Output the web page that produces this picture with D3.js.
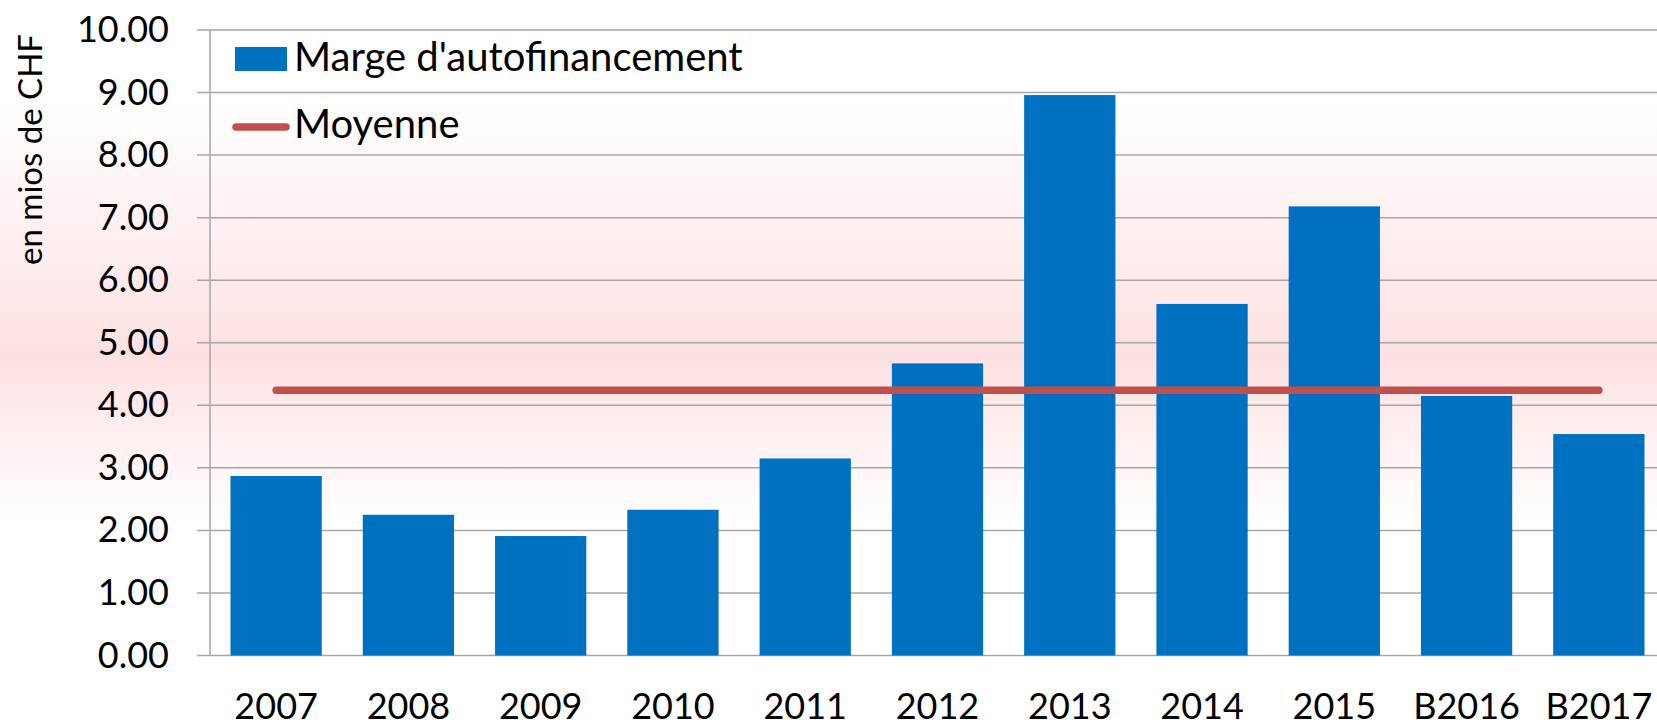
<!DOCTYPE html>
<html>
<head>
<meta charset="utf-8">
<script src="https://cdn.jsdelivr.net/npm/d3@7"></script>
<style>
  html, body { margin: 0; padding: 0; background: #fff; overflow: hidden; }
  text { font-family: Lato, "Open Sans", sans-serif; fill: #000; }
</style>
</head>
<body>
<div id="grafico"></div>
<script>
// Données (en mios de CHF)
const annees = ["2007", "2008", "2009", "2010", "2011", "2012", "2013", "2014", "2015", "B2016", "B2017"];
const marge = [2.87, 2.25, 1.91, 2.33, 3.15, 4.67, 8.96, 5.62, 7.18, 4.15, 3.54];
const moyenne = 4.24;
const graduations = [0, 1, 2, 3, 4, 5, 6, 7, 8, 9, 10];
const legendes = ["Marge d'autofinancement", "Moyenne"];

const largeur = 1657, hauteur = 726;
const marges = {top: 30, right: -8, bottom: 70.5, left: 210};

const svg = d3.select("#grafico").append("svg")
    .attr("width", largeur)
    .attr("height", hauteur);

// Fond dégradé (blanc -> rose -> blanc)
const degrade = svg.append("defs").append("linearGradient")
    .attr("id", "fond")
    .attr("x1", 0).attr("y1", 0).attr("x2", 0).attr("y2", 1);
[[0, "#ffffff"], [0.14, "#ffffff"], [0.49, "#fde1e2"], [0.72, "#ffffff"], [1, "#ffffff"]]
    .forEach(([o, c]) => degrade.append("stop").attr("offset", o).attr("stop-color", c));
svg.append("rect").attr("width", largeur).attr("height", hauteur).attr("fill", "url(#fond)");

// Échelles
const x = d3.scaleBand()
    .domain(annees)
    .range([marges.left, largeur - marges.right])
    .paddingInner(0.31)
    .paddingOuter(0.155);
const y = d3.scaleLinear()
    .domain([0, 10])
    .range([hauteur - marges.bottom, marges.top]);

// Lignes de grille horizontales
svg.append("g").selectAll("line")
    .data(graduations)
    .join("line")
    .attr("x1", marges.left - 13)
    .attr("x2", largeur)
    .attr("y1", d => y(d))
    .attr("y2", d => y(d))
    .attr("stroke", "#a6a6a6")
    .attr("stroke-width", 1.5);

// Axe vertical
svg.append("line")
    .attr("x1", marges.left).attr("x2", marges.left)
    .attr("y1", y(10)).attr("y2", y(0))
    .attr("stroke", "#a6a6a6")
    .attr("stroke-width", 1.5);

// Étiquettes de l'axe Y
const axeY = d3.axisLeft(y).tickValues(graduations).tickFormat(d3.format(".2f")).tickSize(0).tickPadding(41);
svg.append("g")
    .attr("transform", `translate(${marges.left},0)`)
    .call(axeY)
    .call(g => g.select(".domain").remove())
    .selectAll("text")
    .style("font-family", "Lato, 'Open Sans', sans-serif")
    .style("font-size", "36px")
    .attr("fill", "#000");

// Titre de l'axe Y
svg.append("text")
    .attr("transform", `translate(42,${(32 + 267) / 2}) rotate(-90)`)
    .attr("text-anchor", "middle")
    .style("font-size", "33px")
    .text("en mios de CHF");

// Barres
svg.append("g").selectAll("rect")
    .data(marge)
    .join("rect")
    .attr("x", (d, i) => x(annees[i]))
    .attr("y", d => y(d))
    .attr("width", x.bandwidth())
    .attr("height", d => y(0) - y(d))
    .attr("fill", "#0070c0");

// Ligne de la moyenne
svg.append("line")
    .attr("x1", x(annees[0]) + x.bandwidth() / 2)
    .attr("x2", x(annees[annees.length - 1]) + x.bandwidth() / 2)
    .attr("y1", y(moyenne))
    .attr("y2", y(moyenne))
    .attr("stroke", "#c0504d")
    .attr("stroke-width", 7.5)
    .attr("stroke-linecap", "round");

// Étiquettes de l'axe X
const axeX = d3.axisBottom(x).tickSize(0).tickPadding(0);
svg.append("g")
    .attr("transform", `translate(0,${y(0)})`)
    .call(axeX)
    .call(g => g.select(".domain").remove())
    .selectAll("text")
    .attr("dy", null)
    .attr("y", 63)
    .style("font-family", "Lato, 'Open Sans', sans-serif")
    .style("font-size", "36px")
    .attr("fill", "#000");

// Légende
const legende = svg.append("g");
legende.append("rect")
    .attr("x", 235).attr("y", 47)
    .attr("width", 52).attr("height", 24)
    .attr("fill", "#0070c0");
legende.append("line")
    .attr("x1", 236).attr("x2", 286)
    .attr("y1", 127).attr("y2", 127)
    .attr("stroke", "#c0504d")
    .attr("stroke-width", 7.5)
    .attr("stroke-linecap", "round");
legende.selectAll("text.leg")
    .data(legendes)
    .join("text")
    .attr("class", "leg")
    .attr("x", 294)
    .attr("y", (d, i) => 71 + i * 67)
    .style("font-size", "40px")
    .text(d => d);
</script>
</body>
</html>
